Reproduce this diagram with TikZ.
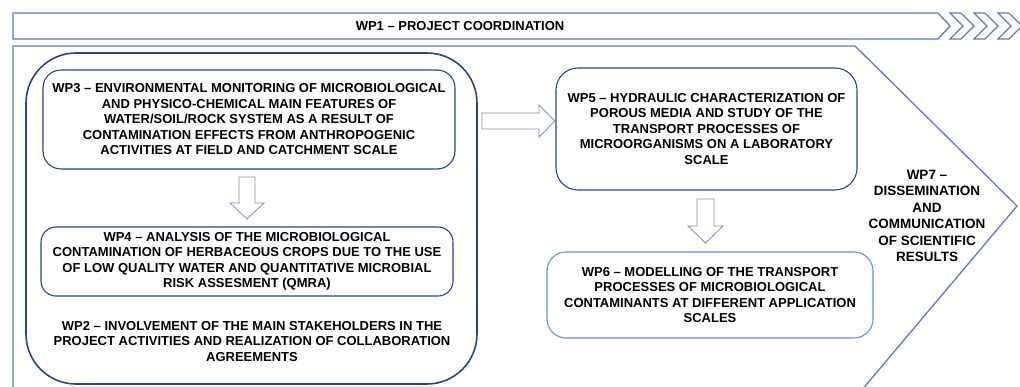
\documentclass[tikz,border=0pt]{standalone}
\usepackage{fontspec}
\setmainfont{Liberation Sans}

\definecolor{framecol}{RGB}{96,124,180}
\definecolor{groupcol}{RGB}{44,68,135}
\definecolor{boxcol}{RGB}{44,68,135}
\definecolor{lightbox}{RGB}{96,146,222}
\definecolor{arrowcol}{RGB}{128,142,168}

\newcommand{\wptext}{\bfseries\fontsize{13}{15.5}\selectfont}

\tikzset{
  wpbox/.style={draw=boxcol, line width=1.1pt, rounded corners=18pt, align=center, inner sep=0pt, font=\wptext},
  groupbox/.style={draw=groupcol, line width=1.6pt, rounded corners=50pt, inner sep=0pt},
  hollow/.style={draw=arrowcol, fill=white, line width=0.8pt, line join=miter},
  frame/.style={draw=framecol, line width=1.3pt, line join=miter},
  wplabel/.style={align=center, font=\wptext, inner sep=0pt}
}

\begin{document}
\begin{tikzpicture}[x=1pt, y=-1pt]
  \useasboundingbox (0,0) rectangle (1020,387);
  \clip (0,0) rectangle (1020,387);

  % banner and chevrons
  \draw[frame] (13,13) -- (938,13) -- (950,26) -- (938,39) -- (13,39) -- cycle;
  \foreach \cx in {950,974,998}
    \draw[frame] (\cx,13) -- ++(11,0) -- ++(13,13) -- ++(-13,13) -- ++(-11,0) -- ++(13,-13) -- cycle;
  \node[wplabel] (wp1) at (460,26) {WP1 -- PROJECT COORDINATION};

  % big frame pointing right
  \draw[frame] (13,404) -- (13,46) -- (855,46) -- (1017,206) -- (850,404);

  % left group
  \node[groupbox, minimum width=451pt, minimum height=331pt] (group) at (251.5,218.5) {};

  \node[wpbox, minimum width=412pt, minimum height=99pt] (wp3) at (249,119.5)
    {WP3 -- ENVIRONMENTAL MONITORING OF MICROBIOLOGICAL\\
     AND PHYSICO-CHEMICAL MAIN FEATURES OF\\
     WATER/SOIL/ROCK SYSTEM AS A RESULT OF\\
     CONTAMINATION EFFECTS FROM ANTHROPOGENIC\\
     ACTIVITIES AT FIELD AND CATCHMENT SCALE};

  \node[wpbox, rounded corners=15pt, minimum width=412pt, minimum height=69pt] (wp4) at (247,261.5)
    {WP4 -- ANALYSIS OF THE MICROBIOLOGICAL\\
     CONTAMINATION OF HERBACEOUS CROPS DUE TO THE USE\\
     OF LOW QUALITY WATER AND QUANTITATIVE MICROBIAL\\
     RISK ASSESMENT (QMRA)};

  \node[wplabel] (wp2) at (252,341.5)
    {WP2 -- INVOLVEMENT OF THE MAIN STAKEHOLDERS IN THE\\
     PROJECT ACTIVITIES AND REALIZATION OF COLLABORATION\\
     AGREEMENTS};

  % right column
  \node[wpbox, rounded corners=22pt, minimum width=301pt, minimum height=122pt] (wp5) at (706.5,129)
    {WP5 -- HYDRAULIC CHARACTERIZATION OF\\
     POROUS MEDIA AND STUDY OF THE\\
     TRANSPORT PROCESSES OF\\
     MICROORGANISMS ON A LABORATORY\\
     SCALE};

  \node[wpbox, draw=lightbox, rounded corners=19pt, minimum width=326pt, minimum height=86pt] (wp6) at (710,295)
    {WP6 -- MODELLING OF THE TRANSPORT\\
     PROCESSES OF MICROBIOLOGICAL\\
     CONTAMINANTS AT DIFFERENT APPLICATION\\
     SCALES};

  \node[wplabel, font=\bfseries\fontsize{13.5}{16.4}\selectfont] (wp7) at (927,216)
    {WP7 --\\ DISSEMINATION\\ AND\\ COMMUNICATION\\ OF SCIENTIFIC\\ RESULTS};

  % hollow arrows
  \draw[hollow] (239,177) -- (255,177) -- (255,203) -- (264,203) -- (247,219) -- (230,203) -- (239,203) -- cycle;
  \draw[hollow] (697,199) -- (714,199) -- (714,226) -- (723,226) -- (705.5,243) -- (688,226) -- (697,226) -- cycle;
  \draw[hollow] (482,113) -- (539,113) -- (539,105) -- (555,121) -- (539,137) -- (539,129) -- (482,129) -- cycle;
\end{tikzpicture}
\end{document}
